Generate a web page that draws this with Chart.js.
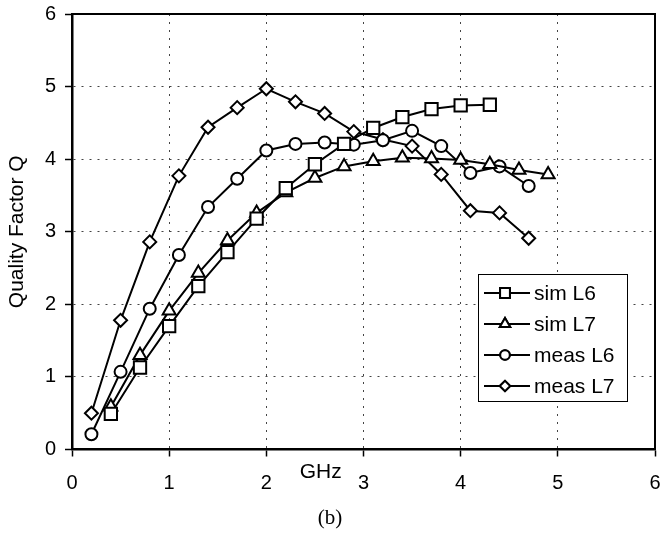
<!DOCTYPE html>
<html>
<head>
<meta charset="utf-8">
<script src="https://cdn.jsdelivr.net/npm/chart.js@4/dist/chart.umd.min.js"></script>
<style>
  html, body { margin: 0; padding: 0; background: #fff; }
  #wrap { width: 660px; height: 533px; }
</style>
</head>
<body>
<div id="wrap"><canvas id="qChart" width="660" height="533"></canvas></div>
<script>
// Frequencies (GHz)
const simFreq = [0.4, 0.7, 1.0, 1.3, 1.6, 1.9, 2.2, 2.5, 2.8, 3.1, 3.4, 3.7, 4.0, 4.3, 4.6, 4.9];
const measFreq = [0.2, 0.5, 0.8, 1.1, 1.4, 1.7, 2.0, 2.3, 2.6, 2.9, 3.2, 3.5, 3.8, 4.1, 4.4, 4.7];

// Quality factor Q per series
const simL6 = [0.49, 1.13, 1.70, 2.25, 2.72, 3.18, 3.60, 3.93, 4.21, 4.43, 4.58, 4.69, 4.74, 4.75];
const simL7 = [0.59, 1.30, 1.91, 2.43, 2.88, 3.26, 3.54, 3.74, 3.90, 3.97, 4.02, 4.01, 3.99, 3.93, 3.85, 3.79];
const measL6 = [0.21, 1.07, 1.94, 2.68, 3.34, 3.73, 4.12, 4.21, 4.23, 4.20, 4.26, 4.39, 4.18, 3.81, 3.90, 3.63];
const measL7 = [0.50, 1.78, 2.86, 3.77, 4.44, 4.71, 4.97, 4.79, 4.63, 4.38, 4.27, 4.18, 3.79, 3.29, 3.26, 2.91];

const seriesNames = ['sim L6', 'sim L7', 'meas L6', 'meas L7'];
const xTicks = [0, 1, 2, 3, 4, 5, 6];
const yTicks = [0, 1, 2, 3, 4, 5, 6];

const pairUp = (xs, ys) => ys.map((v, i) => ({ x: xs[i], y: v }));

const markers = [
  { style: 'rect', radius: 8.7 },
  { style: 'triangle', radius: 7.5 },
  { style: 'circle', radius: 6 },
  { style: 'rectRot', radius: 6.5 }
];

const seriesData = [
  pairUp(simFreq, simL6),
  pairUp(simFreq, simL7),
  pairUp(measFreq, measL6),
  pairUp(measFreq, measL7)
];

const datasets = seriesNames.map((name, i) => ({
  label: name,
  data: seriesData[i],
  borderColor: '#000',
  borderWidth: 2,
  pointStyle: markers[i].style,
  pointRadius: markers[i].radius,
  pointHoverRadius: markers[i].radius,
  pointBackgroundColor: '#fff',
  pointBorderColor: '#000',
  pointBorderWidth: 2,
  tension: 0,
  fill: false
}));

const sansFont = '"Liberation Sans", Arial, sans-serif';

// plot area edges in the picture
const plotBox = { left: 72, right: 655, top: 14, bottom: 449.5 };

// pin the chart area, then draw top/right frame, "GHz", "(b)" and the legend
const extras = {
  id: 'extras',
  afterLayout(chart) {
    const a = chart.chartArea;
    a.left = plotBox.left; a.right = plotBox.right;
    a.top = plotBox.top; a.bottom = plotBox.bottom;
    a.width = a.right - a.left; a.height = a.bottom - a.top;
    const xs = chart.scales.x, ys = chart.scales.y;
    xs.left = a.left; xs.right = a.right; xs.width = a.width;
    xs.top = a.bottom; xs.bottom = chart.height;
    ys.top = a.top; ys.bottom = a.bottom; ys.height = a.height;
    ys.left = 0; ys.right = a.left; ys.width = a.left;
    xs.configure(); ys.configure();
  },
  beforeDatasetsDraw(chart) {
    const { ctx, chartArea: a } = chart;
    ctx.save();
    ctx.strokeStyle = '#000';
    ctx.lineWidth = 2;
    ctx.beginPath();
    ctx.moveTo(a.left, a.top);
    ctx.lineTo(a.right, a.top);
    ctx.lineTo(a.right, a.bottom);
    ctx.stroke();
    ctx.restore();
  },
  afterDraw(chart) {
    const { ctx, chartArea: a } = chart;
    const xs = chart.scales.x;
    ctx.save();
    ctx.fillStyle = '#000';
    ctx.font = '21px ' + sansFont;
    ctx.textAlign = 'center';
    ctx.textBaseline = 'middle';
    ctx.fillText('GHz', xs.getPixelForValue(2.56), a.bottom + 23);

    ctx.font = '21px "Liberation Serif", "Times New Roman", serif';
    ctx.fillText('(b)', chart.width / 2, 518);

    // legend box
    const bx = a.right - 177, by = a.top + 260, bw = 149, bh = 127;
    ctx.fillStyle = '#fff';
    ctx.fillRect(bx, by, bw, bh);
    ctx.strokeStyle = '#000';
    ctx.lineWidth = 1;
    ctx.strokeRect(bx + 0.5, by + 0.5, bw, bh);
    ctx.font = '21px ' + sansFont;
    ctx.textAlign = 'left';
    seriesNames.forEach((name, i) => {
      const ry = by + 19 + i * 31;
      ctx.strokeStyle = '#000';
      ctx.lineWidth = 2;
      ctx.beginPath();
      ctx.moveTo(bx + 6, ry);
      ctx.lineTo(bx + 52, ry);
      ctx.stroke();
      ctx.fillStyle = '#fff';
      Chart.helpers.drawPoint(ctx, {
        pointStyle: markers[i].style,
        radius: markers[i].radius * 0.8,
        rotation: 0,
        borderWidth: 2
      }, bx + 27, ry);
      ctx.fill();
      ctx.stroke();
      ctx.fillStyle = '#000';
      ctx.fillText(name, bx + 56, ry + 1);
    });
    ctx.restore();
  }
};

const config = {
  type: 'line',
  data: { datasets: datasets },
  options: {
    responsive: false,
    animation: false,
    layout: { padding: { top: 14, right: 5, left: 0, bottom: 0 } },
    plugins: {
      legend: { display: false },
      tooltip: { enabled: false }
    },
    scales: {
      x: {
        type: 'linear',
        min: 0,
        max: 6,
        afterBuildTicks: s => { s.ticks = xTicks.map(v => ({ value: v })); },
        afterFit: s => { s.height = 83.5; s.paddingLeft = 0; s.paddingRight = 0; },
        ticks: {
          color: '#000',
          font: { family: sansFont, size: 20 },
          padding: 15,
          maxRotation: 0
        },
        grid: {
          color: '#444',
          lineWidth: 1,
          tickLength: 7,
          tickColor: '#000',
          tickWidth: 1.5,
          tickBorderDash: []
        },
        border: { display: true, color: '#000', width: 2.5, dash: [2, 6] }
      },
      y: {
        min: 0,
        max: 6,
        afterBuildTicks: s => { s.ticks = yTicks.map(v => ({ value: v })); },
        afterFit: s => { s.width = 72; s.paddingTop = 0; s.paddingBottom = 0; },
        title: {
          display: true,
          text: 'Quality Factor Q',
          color: '#000',
          font: { family: sansFont, size: 21 },
          padding: { top: 5, bottom: 0 }
        },
        ticks: {
          color: '#000',
          font: { family: sansFont, size: 20 },
          padding: 9
        },
        grid: {
          color: '#444',
          lineWidth: 1,
          tickLength: 7,
          tickColor: '#000',
          tickWidth: 1.5,
          tickBorderDash: []
        },
        border: { display: true, color: '#000', width: 2.5, dash: [2, 6] }
      }
    }
  },
  plugins: [extras]
};

// Render the chart
const ctx = document.getElementById('qChart').getContext('2d');
const qChart = new Chart(ctx, config);
</script>
</body>
</html>
